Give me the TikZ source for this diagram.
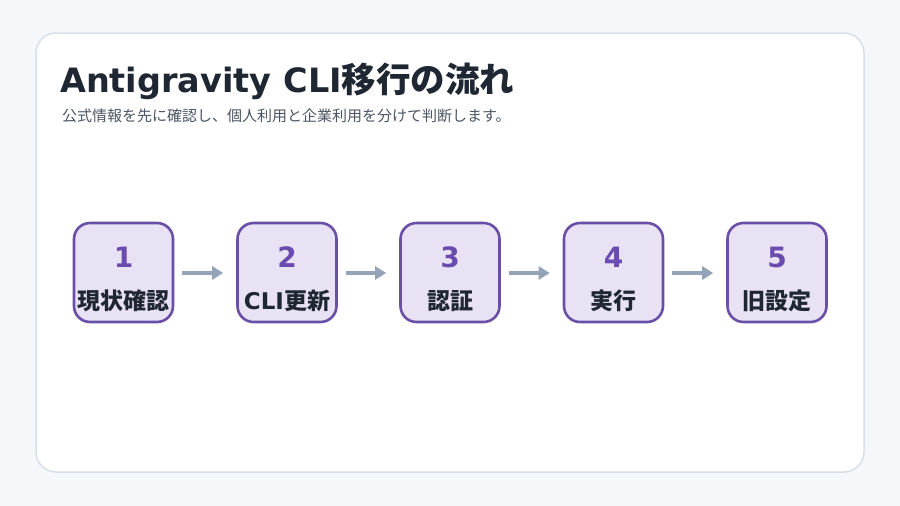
\documentclass[tikz,border=0pt]{standalone}
\usepackage{fontspec}
\newfontfamily\lat{DejaVu Sans}
\newfontfamily\cjk{Noto Sans CJK JP}
\usetikzlibrary{arrows.meta}
\definecolor{pagebg}{HTML}{F5F8FB}
\definecolor{cardborder}{HTML}{D9DFE7}
\definecolor{titlecol}{HTML}{1F2733}
\definecolor{subcol}{HTML}{4B5563}
\definecolor{boxfill}{HTML}{E8E2F4}
\definecolor{boxdraw}{HTML}{6A4FA8}
\definecolor{numcol}{HTML}{6A4CB0}
\definecolor{arrowcol}{HTML}{94A3B8}
\definecolor{labcol}{HTML}{1F2733}
\tikzset{
  stepbox/.style={draw=boxdraw, line width=2.6pt, fill=boxfill, rounded corners=16pt,
    minimum width=99pt, minimum height=99pt, inner sep=0pt},
  numtext/.style={text=numcol, font=\lat\bfseries\fontsize{28}{30}\selectfont, inner sep=0pt},
  labtext/.style={text=labcol, font=\cjk\bfseries\fontsize{23}{26}\selectfont, inner sep=0pt},
  flowarrow/.style={draw=arrowcol, line width=3.5pt, -{Triangle[length=11pt,width=13pt]}},
}
\begin{document}
\begin{tikzpicture}[x=1pt,y=-1pt]
\useasboundingbox (0,0) rectangle (900,506);
\fill[pagebg] (0,0) rectangle (900,506);
\draw[cardborder, line width=1.5pt, fill=white, rounded corners=20pt] (36,33) rectangle (864,472);
\node[anchor=base west, inner sep=0pt, text=titlecol] (title) at (60,92)
  {{\lat\bfseries\fontsize{33.5}{36}\selectfont Antigravity CLI}{\cjk\bfseries\fontsize{34.5}{36}\selectfont 移行の流れ}};
\node[anchor=west, inner sep=0pt, text=subcol, font=\cjk\fontsize{15}{17}\selectfont] (sub) at (62,116)
  {公式情報を先に確認し、個人利用と企業利用を分けて判断します。};
\foreach \i/\x/\lab in {1/123.5/現状確認, 2/287/{{\lat CLI}更新}, 3/450/認証, 4/613.5/実行, 5/777/旧設定}{
  \node[stepbox] (b\i) at (\x,272.5) {};
  \node[numtext] (n\i) at (\x,257) {\i};
  \node[labtext] (l\i) at (\x,301) {\lab};
}
\foreach \a/\b in {1/2,2/3,3/4,4/5}{
  \draw[flowarrow] ([xshift=8pt]b\a.east |- 0,273) coordinate (s\a) -- ([xshift=-13pt]b\b.west |- 0,273);
}
\end{tikzpicture}
\end{document}
